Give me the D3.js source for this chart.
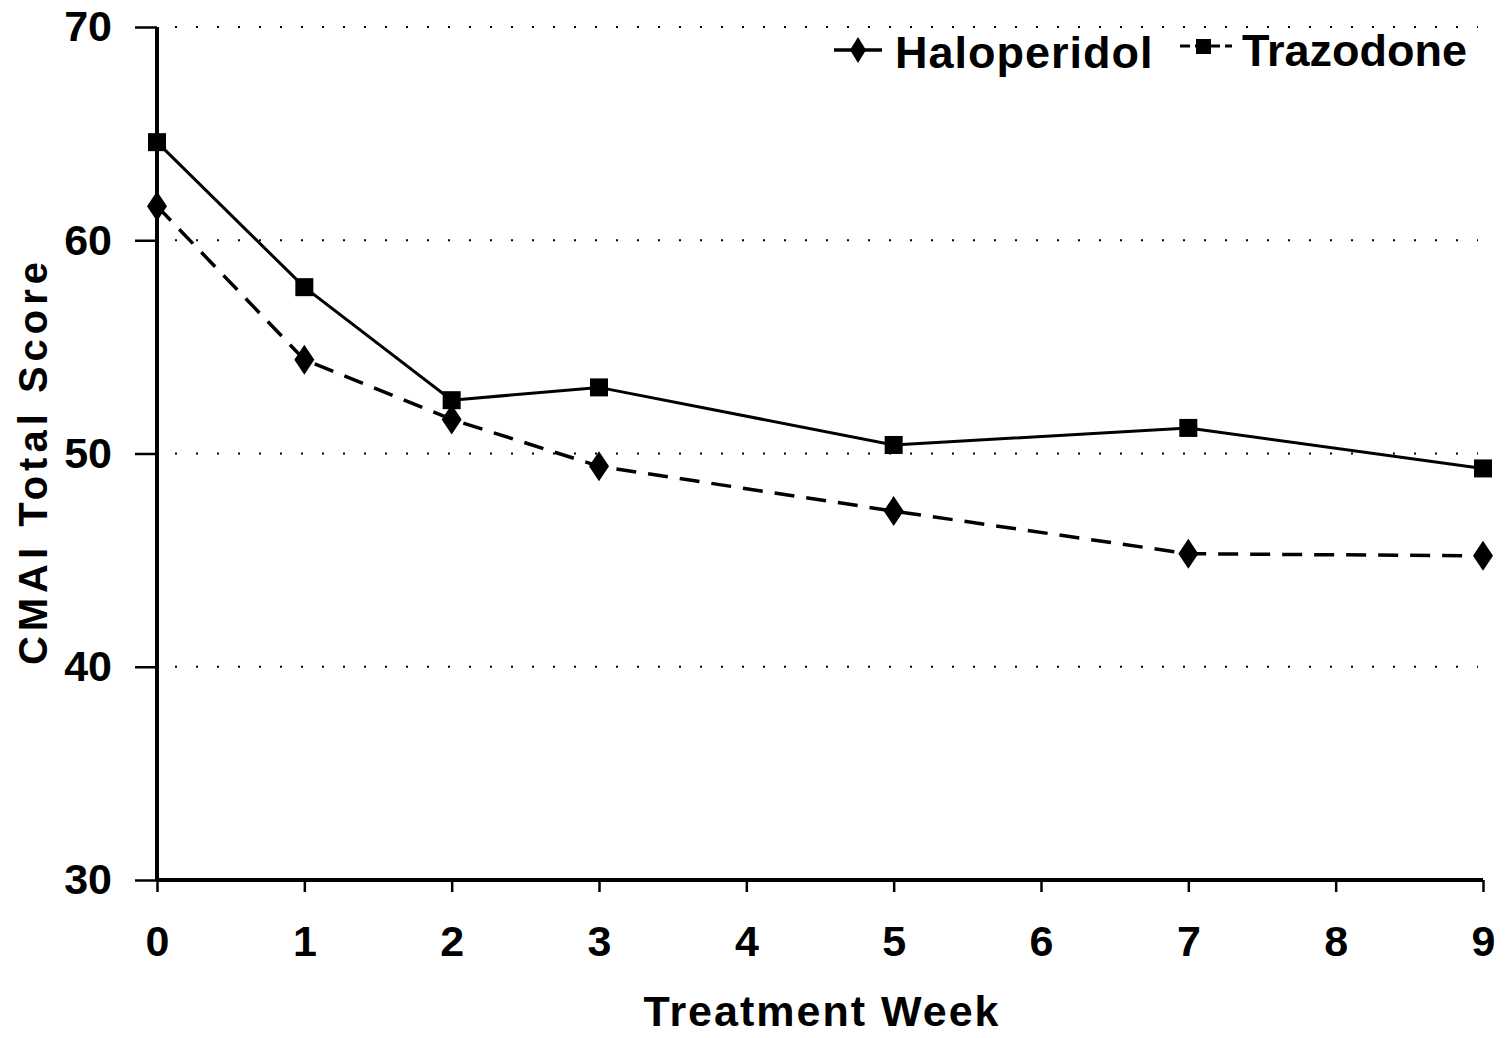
<!DOCTYPE html>
<html>
<head>
<meta charset="utf-8">
<script src="https://cdn.jsdelivr.net/npm/d3@7"></script>
<style>
  body { margin: 0; background: #fff; }
  svg { display: block; font-family: "Liberation Sans", Arial, sans-serif; font-weight: bold; }
</style>
</head>
<body>
<svg id="chart"></svg>
<script>
// data
const weeks = [0, 1, 2, 3, 5, 7, 9];
const haloperidol = [61.6, 54.4, 51.6, 49.4, 47.3, 45.3, 45.2];
const trazodone = [64.6, 57.8, 52.5, 53.1, 50.4, 51.2, 49.3];
const xTicks = [0, 1, 2, 3, 4, 5, 6, 7, 8, 9];
const yTicks = [30, 40, 50, 60, 70];

const width = 1512, height = 1038;
const svg = d3.select("#chart")
    .attr("width", width)
    .attr("height", height)
    .attr("viewBox", [0, 0, width, height]);

const x = d3.scaleLinear([0, 9], [157, 1483]);
const y = d3.scaleLinear([30, 70], [880, 27]);

// dotted grid
svg.append("g")
    .selectAll("line")
    .data(yTicks.filter(d => d > 30))
    .join("line")
        .attr("x1", 175)
        .attr("x2", 1478)
        .attr("y1", d => y(d))
        .attr("y2", d => y(d))
        .attr("stroke", "#000")
        .attr("stroke-width", 2.2)
        .attr("stroke-dasharray", "2,19");

// axes
const yAxis = svg.append("g")
    .attr("transform", `translate(${x(0)},0)`)
    .call(d3.axisLeft(y).tickValues(yTicks).tickSize(22).tickPadding(23));

const xAxis = svg.append("g")
    .attr("transform", `translate(0,${y(30)})`)
    .call(d3.axisBottom(x).tickValues(xTicks).tickSize(12).tickPadding(33));

[yAxis, xAxis].forEach(ax => {
    ax.select(".domain").attr("stroke-width", 4);
    ax.selectAll(".tick line").attr("stroke-width", 2.5);
    ax.selectAll("text")
        .attr("fill", "#000")
        .style("font-size", "43px")
        .style("font-weight", "bold");
});
// remove outer tick caps from d3 domain path
yAxis.select(".domain").attr("d", `M0,${y(70)}V${y(30)}`);
xAxis.select(".domain").attr("d", `M${x(0)},0H${x(9)}`);

// lines
const line = d3.line()
    .x((d, i) => x(weeks[i]))
    .y(d => y(d));

svg.append("path")
    .datum(haloperidol)
    .attr("fill", "none")
    .attr("stroke", "#000")
    .attr("stroke-width", 3.5)
    .attr("stroke-dasharray", "20,12")
    .attr("d", line);

svg.append("path")
    .datum(trazodone)
    .attr("fill", "none")
    .attr("stroke", "#000")
    .attr("stroke-width", 3)
    .attr("d", line);

const diamond = "M0,-15L10,0L0,15L-10,0Z";

svg.append("g")
    .selectAll("path")
    .data(haloperidol)
    .join("path")
        .attr("d", diamond)
        .attr("transform", (d, i) => `translate(${x(weeks[i])},${y(d)})`)
        .attr("fill", "#000");

svg.append("g")
    .selectAll("rect")
    .data(trazodone)
    .join("rect")
        .attr("x", (d, i) => x(weeks[i]) - 9)
        .attr("y", d => y(d) - 9)
        .attr("width", 18)
        .attr("height", 18)
        .attr("fill", "#000");

// axis titles
svg.append("text")
    .attr("x", 822)
    .attr("y", 1026)
    .attr("text-anchor", "middle")
    .style("font-size", "43px")
    .style("letter-spacing", "2px")
    .text("Treatment Week");

svg.append("text")
    .attr("transform", `translate(47,461) rotate(-90)`)
    .attr("text-anchor", "middle")
    .style("font-size", "40px")
    .style("letter-spacing", "5px")
    .text("CMAI Total Score");

// legend (drawn as in the original figure)
const legend = svg.append("g");
legend.append("line")
    .attr("x1", 834).attr("x2", 882)
    .attr("y1", 50).attr("y2", 50)
    .attr("stroke", "#000").attr("stroke-width", 3.5);
legend.append("path")
    .attr("d", "M0,-13L8,0L0,13L-8,0Z")
    .attr("transform", "translate(858,50)")
    .attr("fill", "#000");
legend.append("text")
    .attr("x", 895).attr("y", 68)
    .style("font-size", "45px")
    .style("letter-spacing", "1px")
    .text("Haloperidol");

legend.append("line")
    .attr("x1", 1180).attr("x2", 1232)
    .attr("y1", 46).attr("y2", 46)
    .attr("stroke", "#000").attr("stroke-width", 3)
    .attr("stroke-dasharray", "10,5");
legend.append("rect")
    .attr("x", 1196).attr("y", 39)
    .attr("width", 15).attr("height", 15)
    .attr("fill", "#000");
legend.append("text")
    .attr("x", 1242).attr("y", 66)
    .style("font-size", "45px")
    .text("Trazodone");
</script>
</body>
</html>
